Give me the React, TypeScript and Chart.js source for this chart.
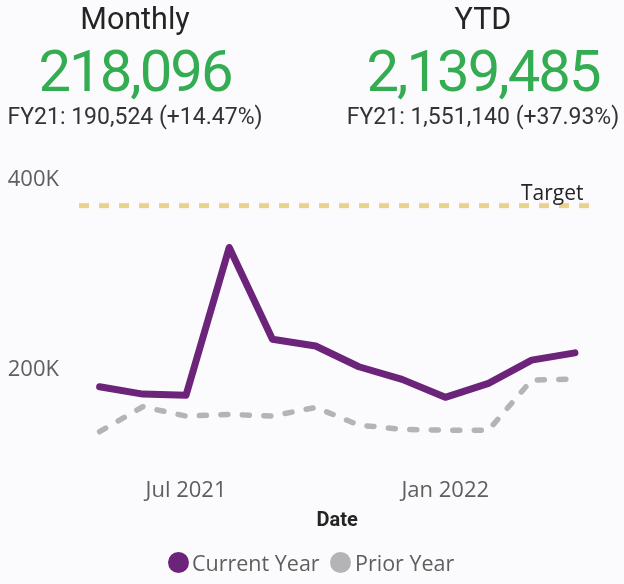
import React, { useEffect, useRef } from "react";
import { Chart, registerables } from "chart.js";

Chart.register(...registerables);

// ---- data ----
const months = [
  "May 2021", "Jun 2021", "Jul 2021", "Aug 2021", "Sep 2021", "Oct 2021",
  "Nov 2021", "Dec 2021", "Jan 2022", "Feb 2022", "Mar 2022", "Apr 2022",
];
const currentYear = [182400, 174700, 173600, 329000, 232500, 225300, 203500, 190200, 171300, 186000, 210500, 218096];
const priorYear = [135100, 161400, 151600, 153400, 151600, 160700, 142100, 137600, 136800, 136800, 189500, 190524];
const targetValue = 373000;
const targetLabel = "Target";
const xTickLabels = ["Jul 2021", "Jan 2022"];
const yTickValues = [200000, 400000];
const yMin = 100000;
const yMax = 420000;
const seriesNames = ["Current Year", "Prior Year"];
const xAxisTitle = "Date";

const monthlyValue = 218096;
const monthlyPrior = 190524;
const ytdValue = 2139485;
const ytdPrior = 1551140;
const priorLabel = "FY21";

// ---- styles ----
const PURPLE = "#6B2479";
const GREY = "#B4B4B7";
const GOLD = "#E8D28C";
const GREEN = "#34AC52";
const DARK = "#252423";
const MUTED = "#605E5C";
const BG = "#FBFBFE";

const fmt = (n: number) => n.toLocaleString("en-US");
const pct = (a: number, b: number) => ((a / b - 1) * 100).toFixed(2);

const targetPlugin = {
  id: "targetLine",
  beforeDatasetsDraw(chart: any) {
    const { ctx, chartArea, scales } = chart;
    const y = scales.y.getPixelForValue(targetValue);
    ctx.save();
    ctx.strokeStyle = GOLD;
    ctx.lineWidth = 5;
    ctx.lineCap = "butt";
    ctx.setLineDash([10, 10]);
    ctx.beginPath();
    ctx.moveTo(chartArea.left + 1, y);
    ctx.lineTo(chartArea.right - 1, y);
    ctx.stroke();
    ctx.setLineDash([]);
    ctx.fillStyle = DARK;
    ctx.font = "21px 'Open Sans'";
    ctx.textAlign = "right";
    ctx.textBaseline = "alphabetic";
    ctx.fillText(targetLabel, chartArea.right - 13, y - 6);
    ctx.restore();
  },
};

function Kpi({ left, width, title, value, prior }: any) {
  const base: React.CSSProperties = {
    position: "absolute",
    left,
    width,
    textAlign: "center",
    fontFamily: "Roboto",
    whiteSpace: "nowrap",
    margin: 0,
  };
  return (
    <>
      <div style={{ ...base, top: 3.5, fontSize: 30.5, lineHeight: "30.5px", color: DARK }}>{title}</div>
      <div style={{ ...base, top: 42, fontSize: 58, lineHeight: "58px", color: GREEN, letterSpacing: "-2px" }}>
        {fmt(value)}
      </div>
      <div style={{ ...base, top: 104.6, fontSize: 23, lineHeight: "23px", color: "#333333" }}>
        {`${priorLabel}: ${fmt(prior)} (+${pct(value, prior)}%)`}
      </div>
    </>
  );
}

export default function App() {
  const canvasRef = useRef<HTMLCanvasElement | null>(null);

  useEffect(() => {
    if (!canvasRef.current) return;
    const chart = new Chart(canvasRef.current, {
      type: "line",
      data: {
        labels: months,
        datasets: [
          {
            label: seriesNames[0],
            data: currentYear,
            borderColor: PURPLE,
            backgroundColor: PURPLE,
            borderWidth: 7,
            pointRadius: 0,
            borderCapStyle: "round",
            borderJoinStyle: "round",
            tension: 0,
          },
          {
            label: seriesNames[1],
            data: priorYear,
            borderColor: GREY,
            backgroundColor: GREY,
            borderWidth: 5.5,
            borderDash: [7, 14.5],
            pointRadius: 0,
            borderCapStyle: "round",
            borderJoinStyle: "round",
            tension: 0,
          },
        ],
      },
      options: {
        responsive: false,
        animation: false,
        events: [],
        layout: { padding: { top: 161, left: 0, right: 27.5, bottom: 51.5 } },
        plugins: { legend: { display: false }, tooltip: { enabled: false } },
        scales: {
          x: {
            type: "category",
            offset: true,
            grid: { display: false, drawTicks: false },
            border: { display: false },
            afterFit: (s: any) => {
              s.height = 67.4;
            },
            ticks: {
              autoSkip: false,
              maxRotation: 0,
              minRotation: 0,
              padding: 12,
              color: MUTED,
              font: { family: "'Open Sans'", size: 22 },
              callback: (_v: any, i: number) => (xTickLabels.includes(months[i]) ? months[i] : ""),
            },
            title: {
              display: true,
              text: xAxisTitle,
              color: DARK,
              font: { family: "Roboto", size: 20, weight: "bold" },
              padding: { top: 5, bottom: 0 },
            },
          },
          y: {
            min: yMin,
            max: yMax,
            grid: { display: false, drawTicks: false },
            border: { display: false },
            afterBuildTicks: (s: any) => {
              s.ticks = yTickValues.map((v) => ({ value: v }));
            },
            afterFit: (s: any) => {
              s.width = 78;
            },
            ticks: {
              padding: 19,
              color: MUTED,
              font: { family: "'Open Sans'", size: 22 },
              callback: (v: any) => `${Number(v) / 1000}K`,
            },
          },
        },
      },
      plugins: [targetPlugin],
    } as any);
    return () => chart.destroy();
  }, []);

  const legendText: React.CSSProperties = {
    position: "absolute",
    top: 551.7,
    fontFamily: "'Open Sans'",
    fontSize: 21.5,
    lineHeight: "22px",
    color: MUTED,
    whiteSpace: "nowrap",
  };
  const dot = (left: number, color: string): React.CSSProperties => ({
    position: "absolute",
    left,
    top: 552,
    width: 21,
    height: 21,
    borderRadius: "50%",
    background: color,
  });

  return (
    <div
      style={{
        position: "fixed",
        left: 0,
        top: 0,
        width: 624,
        height: 584,
        overflow: "hidden",
        background: BG,
      }}
    >
      <canvas
        ref={canvasRef}
        width={624}
        height={584}
        style={{ position: "absolute", left: 0, top: 0, width: 624, height: 584, display: "block" }}
      />
      <Kpi left={0} width={270} title="Monthly" value={monthlyValue} prior={monthlyPrior} />
      <Kpi left={346} width={274} title="YTD" value={ytdValue} prior={ytdPrior} />
      <div style={dot(168, PURPLE)} />
      <div style={{ ...legendText, left: 192 }}>{seriesNames[0]}</div>
      <div style={dot(329.5, GREY)} />
      <div style={{ ...legendText, left: 355 }}>{seriesNames[1]}</div>
    </div>
  );
}
